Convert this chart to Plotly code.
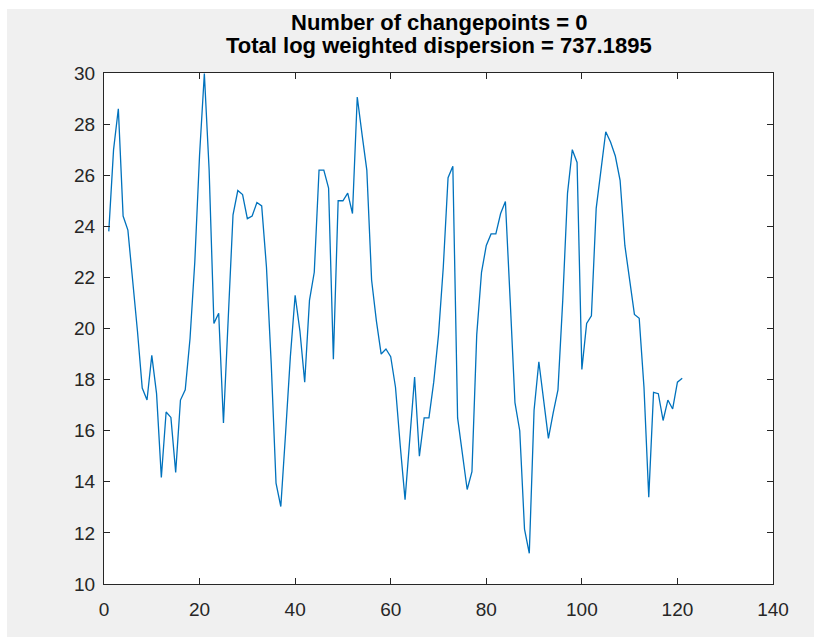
import plotly.graph_objects as go

# Data
x_idx = list(range(1, 122))
values = [
    23.8, 27.0, 28.6, 24.4, 23.85, 21.9, 19.9, 17.67, 17.2, 18.95,
    17.45, 14.17, 16.73, 16.52, 14.37, 17.2, 17.6, 19.6, 22.6, 26.8,
    29.98, 26.2, 20.2, 20.6, 16.3, 20.4, 24.45, 25.4, 25.24, 24.3,
    24.4, 24.93, 24.8, 22.4, 18.6, 13.95, 13.03, 15.9, 18.9, 21.3,
    19.9, 17.9, 21.1, 22.2, 26.2, 26.2, 25.5, 18.8, 25.0, 25.0,
    25.3, 24.5, 29.06, 27.6, 26.2, 21.9, 20.3, 19.0, 19.2, 18.9,
    17.7, 15.4, 13.3, 15.7, 18.1, 15.0, 16.5, 16.5, 17.9, 19.75,
    22.4, 25.9, 26.35, 16.5, 15.2, 13.7, 14.4, 19.75, 22.2, 23.25,
    23.7, 23.7, 24.5, 24.97, 21.1, 17.1, 16.0, 12.15, 11.2, 16.8,
    18.7, 17.1, 15.7, 16.7, 17.6, 21.1, 25.3, 27.0, 26.5, 18.4,
    20.2, 20.5, 24.7, 26.2, 27.7, 27.3, 26.75, 25.8, 23.25, 21.9,
    20.55, 20.4, 17.7, 13.4, 17.5, 17.45, 16.4, 17.2, 16.85, 17.9,
    18.05,
]
x_ticks = [0, 20, 40, 60, 80, 100, 120, 140]
y_ticks = [10, 12, 14, 16, 18, 20, 22, 24, 26, 28, 30]
title_lines = ["Number of changepoints = 0", "Total log weighted dispersion = 737.1895"]

W, H = 814, 637
L, R, T, B = 104, 41, 73, 53
pw, ph = W - L - R, H - T - B

def px_to_paper_x(px):
    return (px - L) / pw

def py_to_paper_y(py):
    return (H - B - py) / ph

axis_color = "#262626"
fig = go.Figure()
fig.add_trace(go.Scatter(x=x_idx, y=values, mode="lines",
                         line=dict(color="#0072BD", width=1.3),
                         hoverinfo="skip", showlegend=False))

common = dict(showline=True, linecolor=axis_color, linewidth=1, mirror="ticks",
              ticks="inside", ticklen=6, tickwidth=1, tickcolor=axis_color,
              showgrid=False, zeroline=False,
              tickfont=dict(family="Liberation Sans, Arial, sans-serif", size=19, color=axis_color))
fig.update_xaxes(range=[0, 140], tickvals=x_ticks, ticktext=[str(v) for v in x_ticks],
                 ticklabelstandoff=8, **common)
fig.update_yaxes(range=[10, 30], tickvals=y_ticks, ticktext=[str(v) for v in y_ticks],
                 ticklabelstandoff=4, **common)

# white border strips around the grey figure area (top & left)
fig.add_shape(type="rect", xref="paper", yref="paper", layer="below",
              x0=-0.3, x1=1.3, y0=py_to_paper_y(9), y1=1.3,
              fillcolor="white", line=dict(width=0))
fig.add_shape(type="rect", xref="paper", yref="paper", layer="below",
              x0=-0.3, x1=px_to_paper_x(7), y0=-0.3, y1=1.3,
              fillcolor="white", line=dict(width=0))

for line_text, cy in zip(title_lines, [23, 45]):
    fig.add_annotation(text=line_text, xref="paper", yref="paper",
                       x=0.5, y=py_to_paper_y(cy), xanchor="center", yanchor="middle",
                       showarrow=False,
                       font=dict(family="Liberation Sans, Arial, sans-serif", size=22,
                                 color="#000000", weight="bold"))

fig.update_layout(width=W, height=H, margin=dict(l=L, r=R, t=T, b=B, pad=0),
                  paper_bgcolor="#f0f0f0", plot_bgcolor="white")
fig.write_html("out.html")
